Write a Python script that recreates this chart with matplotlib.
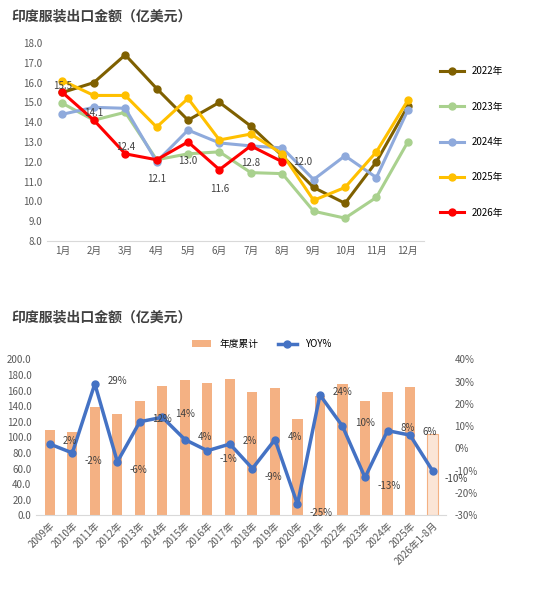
import matplotlib
matplotlib.use("Agg")
import matplotlib.pyplot as plt
import numpy as np

plt.rcParams['font.family'] = ['Noto Sans CJK SC', 'DejaVu Sans']

months = ['1月','2月','3月','4月','5月','6月','7月','8月','9月','10月','11月','12月']
y2022 = [15.5, 16.0, 17.4, 15.7, 14.1, 15.0, 13.8, 12.3, 10.7, 9.9, 12.0, 14.8]
y2023 = [14.95, 14.1, 14.5, 12.1, 12.4, 12.5, 11.45, 11.4, 9.5, 9.15, 10.2, 13.0]
y2024 = [14.4, 14.75, 14.7, 12.0, 13.6, 12.95, 12.8, 12.7, 11.1, 12.3, 11.2, 14.6]
y2025 = [16.1, 15.35, 15.35, 13.75, 15.2, 13.1, 13.4, 12.4, 10.05, 10.7, 12.5, 15.1]
y2026 = [15.5, 14.1, 12.4, 12.1, 13.0, 11.6, 12.8, 12.0]

years = ['2009年','2010年','2011年','2012年','2013年','2014年','2015年','2016年','2017年',
         '2018年','2019年','2020年','2021年','2022年','2023年','2024年','2025年','2026年1-8月']
totals = [109,107,139,130,146,166,173,170,175,158,163,124,153,168,146,158,164,104]
yoy = [2,-2,29,-6,12,14,4,-1,2,-9,4,-25,24,10,-13,8,6,-10]

fig = plt.figure(figsize=(5.5,5.89), dpi=100)
fig.patch.set_facecolor('white')
gc = '#595959'

ax = fig.add_axes([0.085, 0.591, 0.685, 0.336])
x = np.arange(12)
series = [(y2022,'#7F6000','2022年'),(y2023,'#A9D18E','2023年'),(y2024,'#8FAADC','2024年'),
          (y2025,'#FFC000','2025年'),(y2026,'#FF0000','2026年')]
for ys,c,l in series:
    ax.plot(x[:len(ys)], ys, color=c, lw=2.2, marker='o', ms=5, label=l)
offs = [(0,5),(0,5),(0,5),(0,-14),(0,-14),(0,-14),(0,-12),(8,0)]
has = ['center']*7+['left']
for i,v in enumerate(y2026):
    dx,dy = offs[i]
    ax.annotate(f'{v:.1f}', (i,v), xytext=(dx,dy), textcoords='offset points',
                ha=has[i], va='center', fontsize=7, color='#404040')
ax.set_ylim(8,18); ax.set_yticks(np.arange(8,18.1,1))
ax.set_yticklabels([f'{v:.1f}' for v in np.arange(8,18.1,1)])
ax.set_xticks(x); ax.set_xticklabels(months)
ax.set_xlim(-0.5,11.5)
for s in ['top','right','left']: ax.spines[s].set_visible(False)
ax.spines['bottom'].set_color('#d9d9d9')
ax.tick_params(length=0, labelsize=7, colors=gc)
ax.legend(loc='center left', bbox_to_anchor=(1.02,0.5), frameon=False, fontsize=7,
          labelspacing=2.6, handlelength=2.5)
fig.text(0.02, 0.965, '印度服装出口金额（亿美元）', fontsize=10, fontweight='bold', color='#404040')

ax2 = fig.add_axes([0.066, 0.125, 0.745, 0.265])
xb = np.arange(len(years))
cols = ['#F4B183']*17 + ['#FBE5D6']
bars = ax2.bar(xb, totals, width=0.45, color=cols, label='年度累计')
bars[-1].set_edgecolor('#F4B183'); bars[-1].set_linewidth(0.8)
ax2.set_ylim(0,200); ax2.set_yticks(np.arange(0,201,20))
ax2.set_yticklabels([f'{v:.1f}' for v in np.arange(0,201,20)])
ax2.set_xlim(-0.6, len(years)-0.4)
ax2.set_xticks(xb); ax2.set_xticklabels(years, rotation=45, ha='right', rotation_mode='anchor')
for s in ['top','right','left']: ax2.spines[s].set_visible(False)
ax2.spines['bottom'].set_color('#d9d9d9')
ax2.tick_params(length=0, labelsize=7, colors=gc)
ax3 = ax2.twinx()
ax3.plot(xb, yoy, color='#4472C4', lw=2.5, marker='o', ms=5, label='YOY%')
ax3.set_ylim(-30,40); ax3.set_yticks(np.arange(-30,41,10))
ax3.set_yticklabels([f'{v}%' for v in np.arange(-30,41,10)])
for s in ax3.spines.values(): s.set_visible(False)
ax3.tick_params(length=0, labelsize=7, colors=gc, pad=6)
for i,v in enumerate(yoy):
    ax3.annotate(f'{v}%', (i,v), xytext=(9,-6 if v<0 else 2), textcoords='offset points',
                 ha='left', va='center', fontsize=7, color='#404040')
h1,l1 = ax2.get_legend_handles_labels(); h2,l2 = ax3.get_legend_handles_labels()
ax2.legend(h1+h2, l1+l2, loc='lower center', bbox_to_anchor=(0.55,1.01), ncol=2, frameon=False, fontsize=7)
fig.text(0.02, 0.455, '印度服装出口金额（亿美元）', fontsize=10, fontweight='bold', color='#404040')

fig.savefig('out.png', dpi=100)
